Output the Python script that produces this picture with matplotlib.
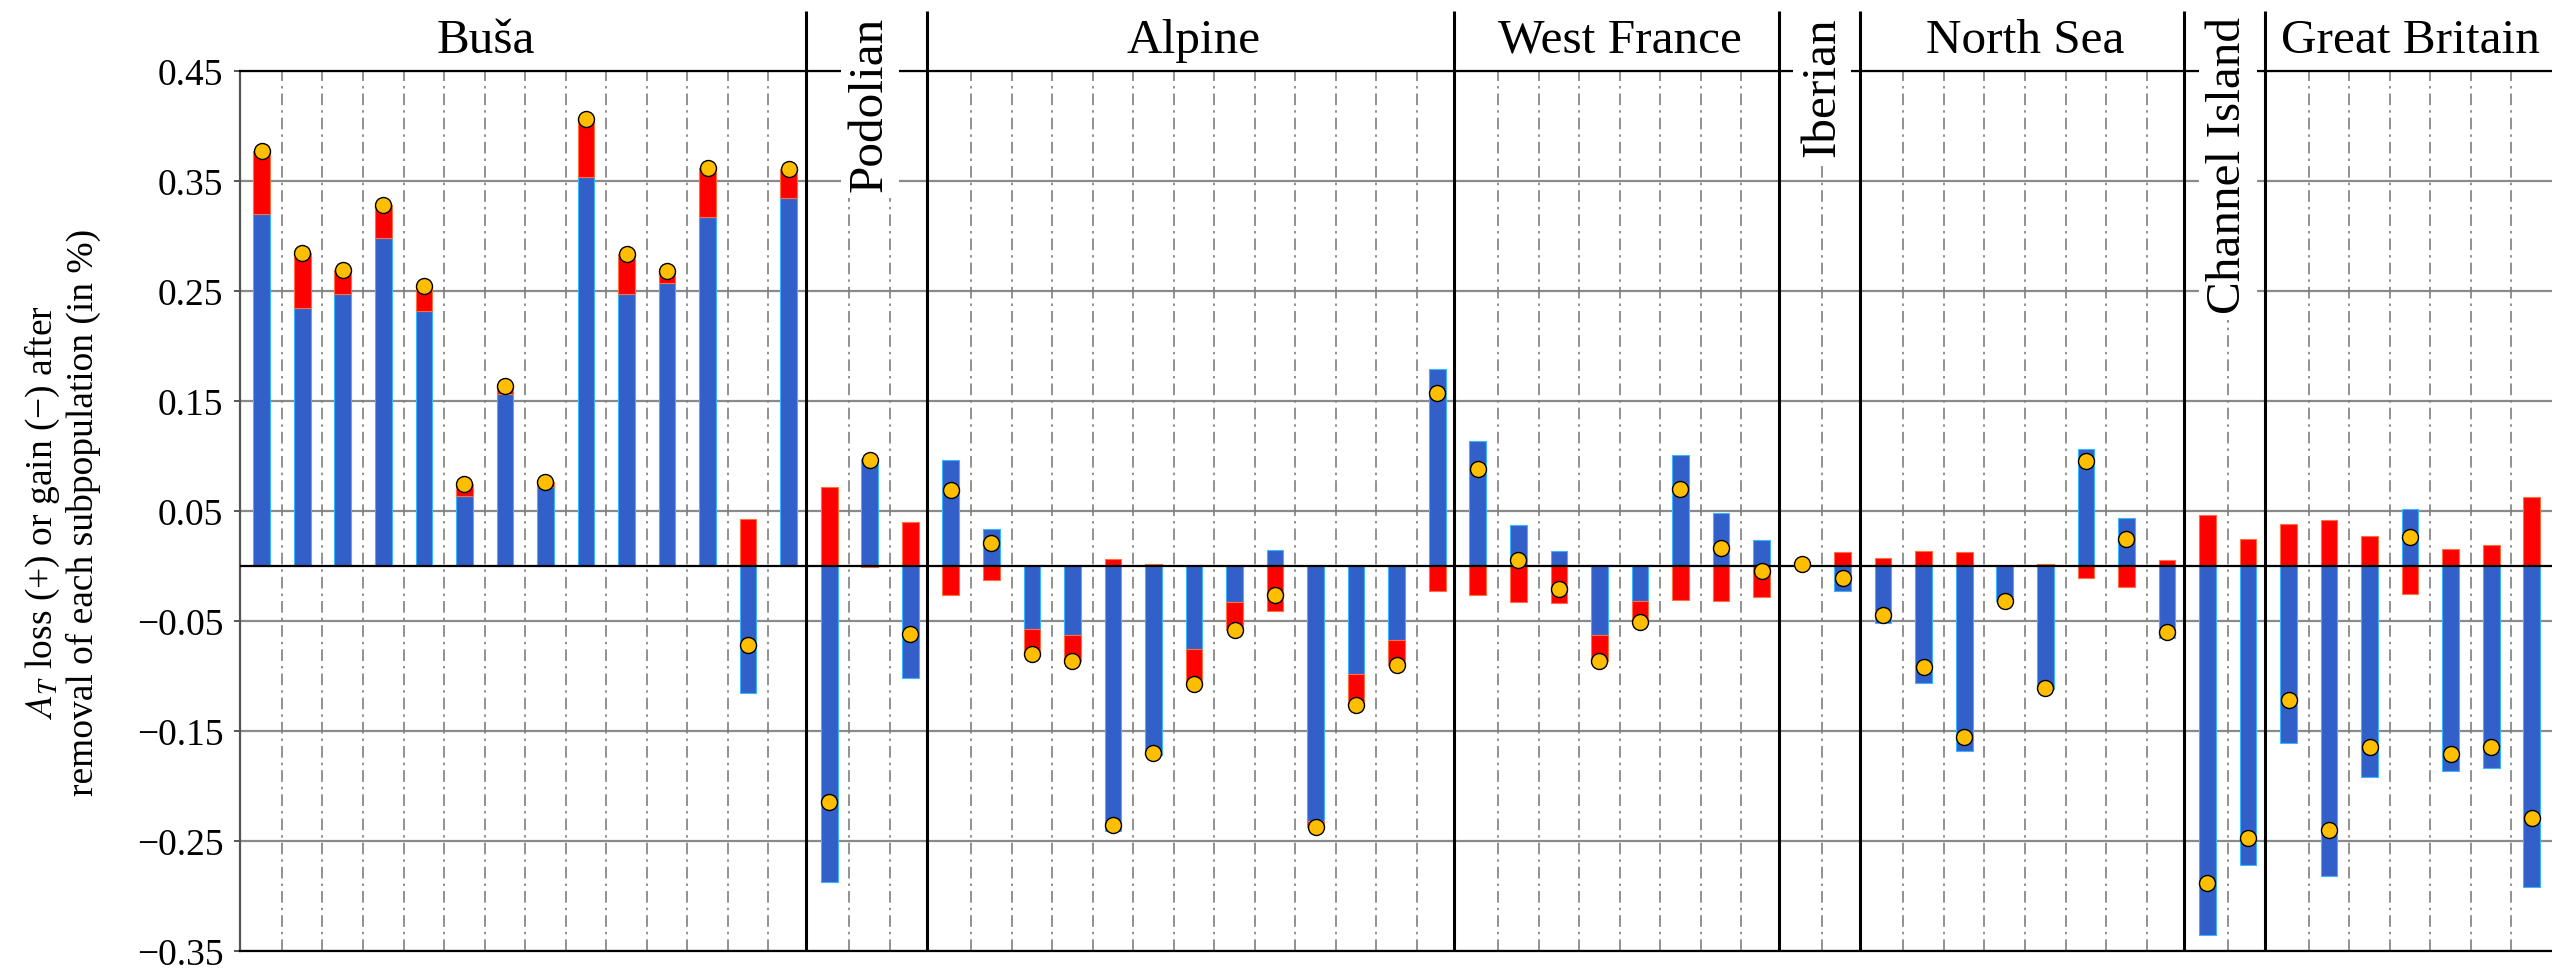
import matplotlib
matplotlib.use("Agg")
import matplotlib.pyplot as plt
import numpy as np

plt.rcParams["font.family"] = ["Liberation Serif", "DejaVu Serif"]
plt.rcParams["mathtext.fontset"] = "stix"

# ---- data: A_T change split into two components per subpopulation ----
groups = ["Buša", "Podolian", "Alpine", "West France", "Iberian",
          "North Sea", "Channel Island", "Great Britain"]

busa_blue = [0.320, 0.235, 0.247, 0.298, 0.232, 0.064, 0.156, 0.0715,
             0.354, 0.247, 0.257, 0.317, -0.115, 0.3345]
busa_red = [0.057, 0.050, 0.022, 0.030, 0.023, 0.011, 0.008, 0.005,
            0.052, 0.037, 0.011, 0.045, 0.043, 0.026]

podolian_blue = [-0.287, 0.097, -0.102]
podolian_red = [0.072, -0.001, 0.040]

alpine_blue = [0.096, 0.034, -0.057, -0.063, -0.241, -0.172, -0.075,
               -0.0326, 0.015, -0.232, -0.098, -0.067, 0.1795]
alpine_red = [-0.0265, -0.013, -0.023, -0.023, 0.006, 0.002, -0.032,
              -0.026, -0.041, -0.005, -0.028, -0.023, -0.0226]

westfrance_blue = [0.114, 0.0377, 0.0135, -0.063, -0.032, 0.101, 0.048, 0.0235]
westfrance_red = [-0.026, -0.0326, -0.034, -0.0235, -0.019, -0.031, -0.032, -0.028]

iberian_blue = [0.002, -0.023]
iberian_red = [0.0, 0.0123]

northsea_blue = [-0.052, -0.106, -0.168, -0.032, -0.112, 0.106, 0.044, -0.065]
northsea_red = [0.0074, 0.0138, 0.0123, 0.0, 0.0014, -0.0105, -0.0195, 0.0053]

channel_blue = [-0.335, -0.2714]
channel_red = [0.0468, 0.0244]

britain_blue = [-0.1605, -0.282, -0.1917, 0.0514, -0.1865, -0.1835, -0.292]
britain_red = [0.0386, 0.0417, 0.0274, -0.025, 0.0153, 0.0189, 0.0629]

y_ticks = [0.45, 0.35, 0.25, 0.15, 0.05, -0.05, -0.15, -0.25, -0.35]

blue_sets = [busa_blue, podolian_blue, alpine_blue, westfrance_blue,
             iberian_blue, northsea_blue, channel_blue, britain_blue]
red_sets = [busa_red, podolian_red, alpine_red, westfrance_red,
            iberian_red, northsea_red, channel_red, britain_red]

# ---- styling ----
BLUE = "#335fc9"
RED = "#ff0000"
DOT = "#ffbf00"
GRID = "#8a8a8a"
YMIN, YMAX = -0.35, 0.45

fig = plt.figure(figsize=(25.52, 9.70), dpi=100)
ax = fig.add_axes([240 / 2552, 18 / 970, 1 - 240 / 2552, 880 / 970])

blue = np.concatenate([np.asarray(b, float) for b in blue_sets])
red = np.concatenate([np.asarray(r, float) for r in red_sets])
total = blue + red
x = np.arange(len(blue))
counts = [len(b) for b in blue_sets]
starts = np.cumsum([0] + counts[:-1])

# red stacks on blue when both share a sign, otherwise it starts from zero
same = np.sign(red) == np.sign(blue)
red_bottom = np.where(same, blue, 0.0)

bw = 0.41
ax.bar(x, blue, width=bw, color=BLUE, edgecolor="#38b6ff", linewidth=0.8, zorder=2)
ax.bar(x, red, bottom=red_bottom, width=bw, color=RED, edgecolor="#ff7040",
       linewidth=0.8, zorder=2)
ax.axhline(0, color="black", lw=1.6, zorder=3)
ax.plot(x, total, "o", ms=11.5, mfc=DOT, mec="black", mew=1.0, zorder=6)

# dash-dot separators between neighbouring bars inside each group
inner = []
for s, n in zip(starts, counts):
    inner.extend(s + np.arange(n - 1) + 0.5)
ax.vlines(inner, YMIN, YMAX, colors="#7f7f7f", linestyles=(0, (7, 3, 1.5, 3)),
          lw=1.2, zorder=1)

# solid black group boundaries, reaching up into the title band
xtrans = ax.get_xaxis_transform()
for s, n in zip(starts[1:], counts[1:]):
    bx = s - 0.58
    ax.plot([bx, bx], [0, 1.068], color="black", lw=2.2, transform=xtrans,
            clip_on=False, zorder=4, solid_capstyle="butt")

# group titles
for g, s, n in zip(groups, starts, counts):
    cx = s + (n - 1) / 2
    if g == "Buša":
        cx -= 0.97
    if n <= 3:
        ax.text(cx, 1.0625, g, rotation=90, ha="center", va="top",
                fontsize=35.5, transform=xtrans, clip_on=False, zorder=7,
                bbox=dict(boxstyle="square,pad=0.14", fc="white", ec="none"))
    else:
        ax.text(cx, 1.0216, g, ha="center", va="baseline", fontsize=35.5,
                transform=xtrans, clip_on=False, zorder=7)

ax.set_xlim(-0.535, 56.5)
ax.set_ylim(YMIN, YMAX)
ax.set_xticks([])
ax.set_yticks(y_ticks, labels=[f"{v:.2f}".replace("-", "\u2212") for v in y_ticks])
ax.tick_params(axis="y", direction="out", length=4, width=1.4, color="#555555",
               labelsize=27, pad=8)
ax.yaxis.grid(True, color=GRID, lw=1.6)
ax.set_axisbelow(True)

ax.spines["right"].set_visible(False)
ax.spines["left"].set_color("#555555")
ax.spines["left"].set_linewidth(1.6)
for side in ("top", "bottom"):
    ax.spines[side].set_color("black")
    ax.spines[side].set_linewidth(1.6)
    ax.spines[side].set_zorder(3)

fig.text(62 / 2552, 1 - 512 / 970,
         "$A_T$ loss (+) or gain (\u2212) after\nremoval of each subpopulation (in %)",
         rotation=90, ha="center", va="center", fontsize=27,
         multialignment="center", linespacing=1.15)

fig.savefig("out.png", dpi=100)
